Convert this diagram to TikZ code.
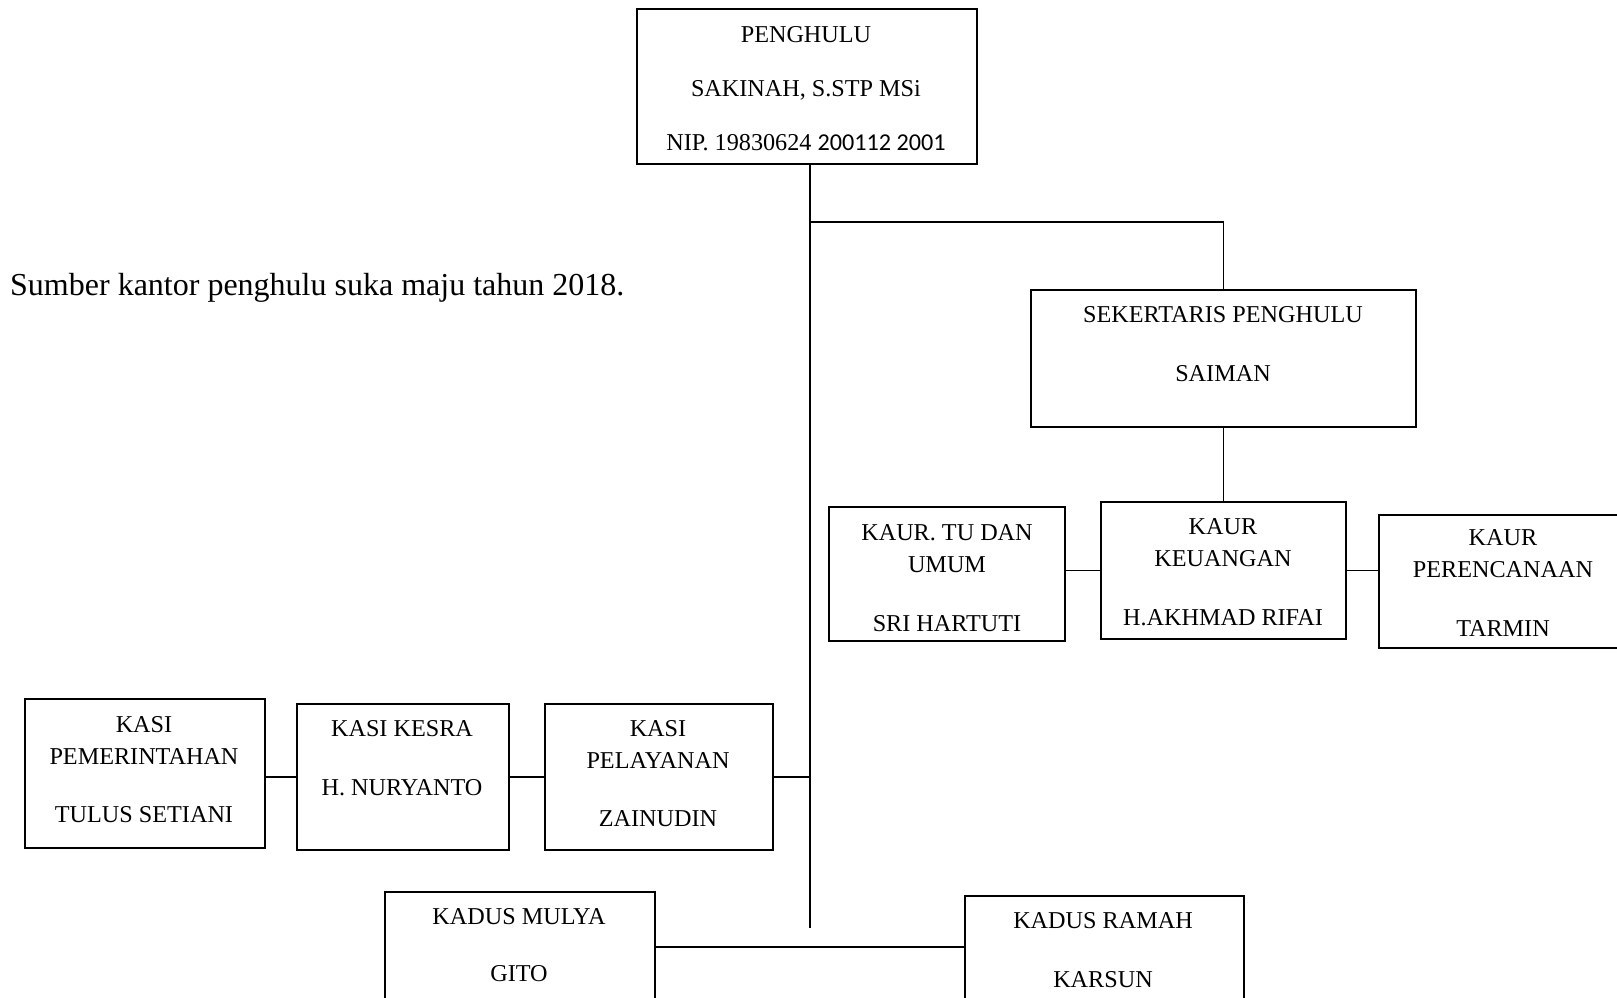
\documentclass[tikz,border=0pt]{standalone}
\usepackage{fontspec}
\setmainfont{Liberation Serif}
\newfontfamily\calib{Carlito}
\begin{document}
\begin{tikzpicture}[x=1pt,y=-1pt,
  box/.style={draw, line width=1.8pt, inner sep=0pt},
  txt/.style={anchor=north, inner sep=0pt, align=center, font=\fontsize{24.2}{32}\selectfont},
  conn/.style={line width=1.7pt}]
\useasboundingbox (0,0) rectangle (1617,997);
% boxes
\node[box, minimum width=340pt, minimum height=155pt] (peng) at (807,86.5) {};
\node[box, minimum width=385pt, minimum height=137pt] (sek) at (1223.5,358.5) {};
\node[box, minimum width=236pt, minimum height=134pt] (tu) at (947,574) {};
\node[box, minimum width=245pt, minimum height=137pt] (keu) at (1223.5,570.5) {};
\node[box, minimum width=248pt, minimum height=133pt] (ren) at (1503,581.5) {};
\node[box, minimum width=240pt, minimum height=149pt] (pem) at (145,773.5) {};
\node[box, minimum width=212pt, minimum height=146pt] (kes) at (403,777) {};
\node[box, minimum width=228pt, minimum height=146pt] (pel) at (659,777) {};
\node[box, minimum width=270pt, minimum height=113pt] (mul) at (520,948.5) {};
\node[box, minimum width=279pt, minimum height=109pt] (ram) at (1104.5,950.5) {};
% texts
\node[txt] (pengt) at (806,26) {PENGHULU\\[22pt]SAKINAH, S.STP MSi\\[22pt]NIP. 19830624 {\calib 200112 2001}};
\node[txt] (sekt) at (1223,306.5) {SEKERTARIS PENGHULU\\[27pt]SAIMAN};
\node[txt] (tut) at (947,524) {KAUR. TU DAN\\UMUM\\[27pt]SRI HARTUTI};
\node[txt] (keut) at (1223,518) {KAUR\\KEUANGAN\\[27pt]H.AKHMAD RIFAI};
\node[txt] (rent) at (1503,529) {KAUR\\PERENCANAAN\\[27pt]TARMIN};
\node[txt] (pemt) at (144,716) {KASI\\PEMERINTAHAN\\[26pt]TULUS SETIANI};
\node[txt] (kest) at (402,720) {KASI KESRA\\[27pt]H. NURYANTO};
\node[txt] (pelt) at (658,720) {KASI\\PELAYANAN\\[26pt]ZAINUDIN};
\node[txt] (mult) at (519,908) {KADUS MULYA\\[25.5pt]GITO};
\node[txt] (ramt) at (1103,912) {KADUS RAMAH\\[27pt]KARSUN};
\node[anchor=base west, inner sep=0pt, font=\fontsize{32}{38}\selectfont] (src) at (10,295) {Sumber kantor penghulu suka maju tahun 2018.};
% connectors
\coordinate (tend) at (810,928);
\coordinate (j1) at (810,222);
\coordinate (kj) at (810,947);
\draw[conn] (tend |- peng.south) -- (tend);
\draw[conn] (j1) -| (sek.north);
\draw[conn] (sek.south) -- (keu.north);
\draw[conn] (tu.east |- keu.west) -- (keu.west);
\draw[conn] (keu.east) -- (keu.east -| ren.west);
\draw[conn] (pem.east |- kes.west) -- (kes.west);
\draw[conn] (kes.east) -- (pel.west);
\draw[conn] (pel.east) -- (pel.east -| tend);
\draw[conn] (kj -| mul.east) -- (kj -| ram.west);
\end{tikzpicture}
\end{document}
